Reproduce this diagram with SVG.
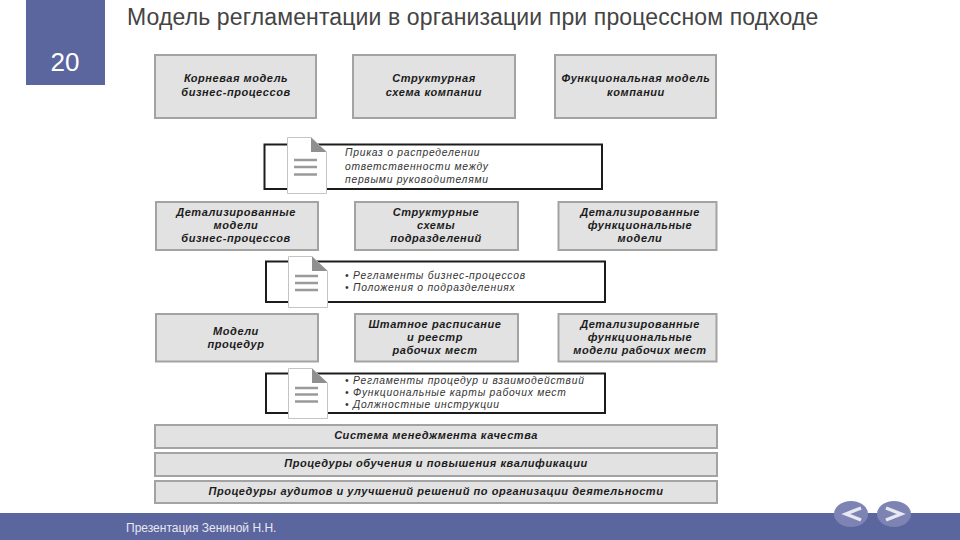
<svg xmlns="http://www.w3.org/2000/svg" width="960" height="540" viewBox="0 0 960 540">
<style>
.box{fill:#e2e2e2;stroke:#a3a3a3;stroke-width:2}
.doc{fill:#fff;stroke:#1c1c1c;stroke-width:2}
.sheet{fill:#fff;stroke:#c4c4c4;stroke-width:1}
.fold{fill:#8f8f8f}
.ln{stroke:#9a9a9a;stroke-width:2.5}
text{font-family:"Liberation Sans",sans-serif}
.b{font-size:11px;font-weight:700;font-style:italic;fill:#1c1c1c;text-anchor:middle;letter-spacing:.55px}
.t{font-size:10.3px;font-style:italic;fill:#333;letter-spacing:.75px}
.title{font-size:23px;fill:#444;letter-spacing:.13px}
.nav{fill:#7d84b4}
.chev{fill:none;stroke:#e8e8f2;stroke-width:3.5}
</style>
<rect width="960" height="540" fill="#fff"/>
<g id="header">
<rect x="26" y="0" width="79" height="85" fill="#5b659e"/>
<text x="65" y="71" text-anchor="middle" style="font-size:26px;fill:#fff">20</text>
<text class="title" x="127" y="25">Модель регламентации в организации при процессном подходе</text>
</g>
<g id="n1"><rect class="box" x="155" y="55" width="161" height="63"/><text class="b" x="236" y="82">Корневая модель</text><text class="b" x="236" y="96">бизнес-процессов</text></g>
<g id="n2"><rect class="box" x="353" y="55" width="162" height="63"/><text class="b" x="434" y="82">Структурная</text><text class="b" x="434" y="96">схема компании</text></g>
<g id="n3"><rect class="box" x="555" y="55" width="161" height="63"/><text class="b" x="636" y="82">Функциональная модель</text><text class="b" x="636" y="96">компании</text></g>
<g id="d1"><rect class="doc" x="264.500" y="144.500" width="337.500" height="44.500"/>
<path class="sheet" d="M287.500 137.500H311L326.500 152V193.500H287.500Z"/><path class="fold" d="M311 137.500L326.500 152H311Z"/>
<path class="ln" d="M294 160H317M294 167H317M294 174.500H317"/>
<text class="t" x="345" y="156">Приказ о распределении</text><text class="t" x="345" y="169.500">ответственности между</text><text class="t" x="345" y="183">первыми руководителями</text></g>
<g id="n4"><rect class="box" x="156" y="202" width="162" height="48"/><text class="b" x="236" y="216">Детализированные</text><text class="b" x="236" y="229">модели</text><text class="b" x="236" y="242">бизнес-процессов</text></g>
<g id="n5"><rect class="box" x="355" y="202" width="163" height="48"/><text class="b" x="436" y="216">Структурные</text><text class="b" x="436" y="229">схемы</text><text class="b" x="436" y="242">подразделений</text></g>
<g id="n6"><rect class="box" x="558.500" y="202" width="158" height="48"/><text class="b" x="640" y="216">Детализированные</text><text class="b" x="640" y="229">функциональные</text><text class="b" x="640" y="242">модели</text></g>
<g id="d2"><rect class="doc" x="266" y="261.500" width="339" height="40.500"/>
<path class="sheet" d="M288.500 256.500H312L327.500 271V307.500H288.500Z"/><path class="fold" d="M312 256.500L327.500 271H312Z"/>
<path class="ln" d="M295 276H318M295 283H318M295 290H318"/>
<text class="t" x="345" y="279">• Регламенты бизнес-процессов</text><text class="t" x="345" y="291">• Положения о подразделениях</text></g>
<g id="n7"><rect class="box" x="156" y="314" width="162" height="47.500"/><text class="b" x="236" y="335">Модели</text><text class="b" x="236" y="348">процедур</text></g>
<g id="n8"><rect class="box" x="355" y="314" width="163" height="47.500"/><text class="b" x="435" y="328">Штатное расписание</text><text class="b" x="435" y="341">и реестр</text><text class="b" x="435" y="354">рабочих мест</text></g>
<g id="n9"><rect class="box" x="558.500" y="314" width="158" height="47.500"/><text class="b" x="640" y="328">Детализированные</text><text class="b" x="640" y="341">функциональные</text><text class="b" x="640" y="354">модели рабочих мест</text></g>
<g id="d3"><rect class="doc" x="266" y="373.500" width="339" height="39.500"/>
<path class="sheet" d="M288.500 368.500H312L327.500 383V418.500H288.500Z"/><path class="fold" d="M312 368.500L327.500 383H312Z"/>
<path class="ln" d="M295 388H318M295 394.500H318M295 401.500H318"/>
<text class="t" x="345" y="384">• Регламенты процедур и взаимодействий</text><text class="t" x="345" y="396">• Функциональные карты рабочих мест</text><text class="t" x="345" y="408">• Должностные инструкции</text></g>
<g id="b1"><rect class="box" x="155" y="425" width="562" height="23"/><text class="b" x="436" y="439">Система менеджмента качества</text></g>
<g id="b2"><rect class="box" x="155" y="453" width="562" height="23"/><text class="b" x="436" y="467">Процедуры обучения и повышения квалификации</text></g>
<g id="b3"><rect class="box" x="155" y="481" width="562" height="22"/><text class="b" x="436" y="495">Процедуры аудитов и улучшений решений по организации деятельности</text></g>
<g id="connectors"></g>
<g id="footer">
<rect x="0" y="513" width="960" height="27" fill="#5b659e"/>
<text x="126" y="532" style="font-size:12px;fill:#e8e8f2">Презентация Зениной Н.Н.</text>
<ellipse class="nav" cx="851" cy="514" rx="17" ry="13"/><path class="chev" d="M861 508L846 514L861 520"/>
<ellipse class="nav" cx="894" cy="514" rx="17" ry="13"/><path class="chev" d="M886 508L901 514L886 520"/>
</g>
</svg>
